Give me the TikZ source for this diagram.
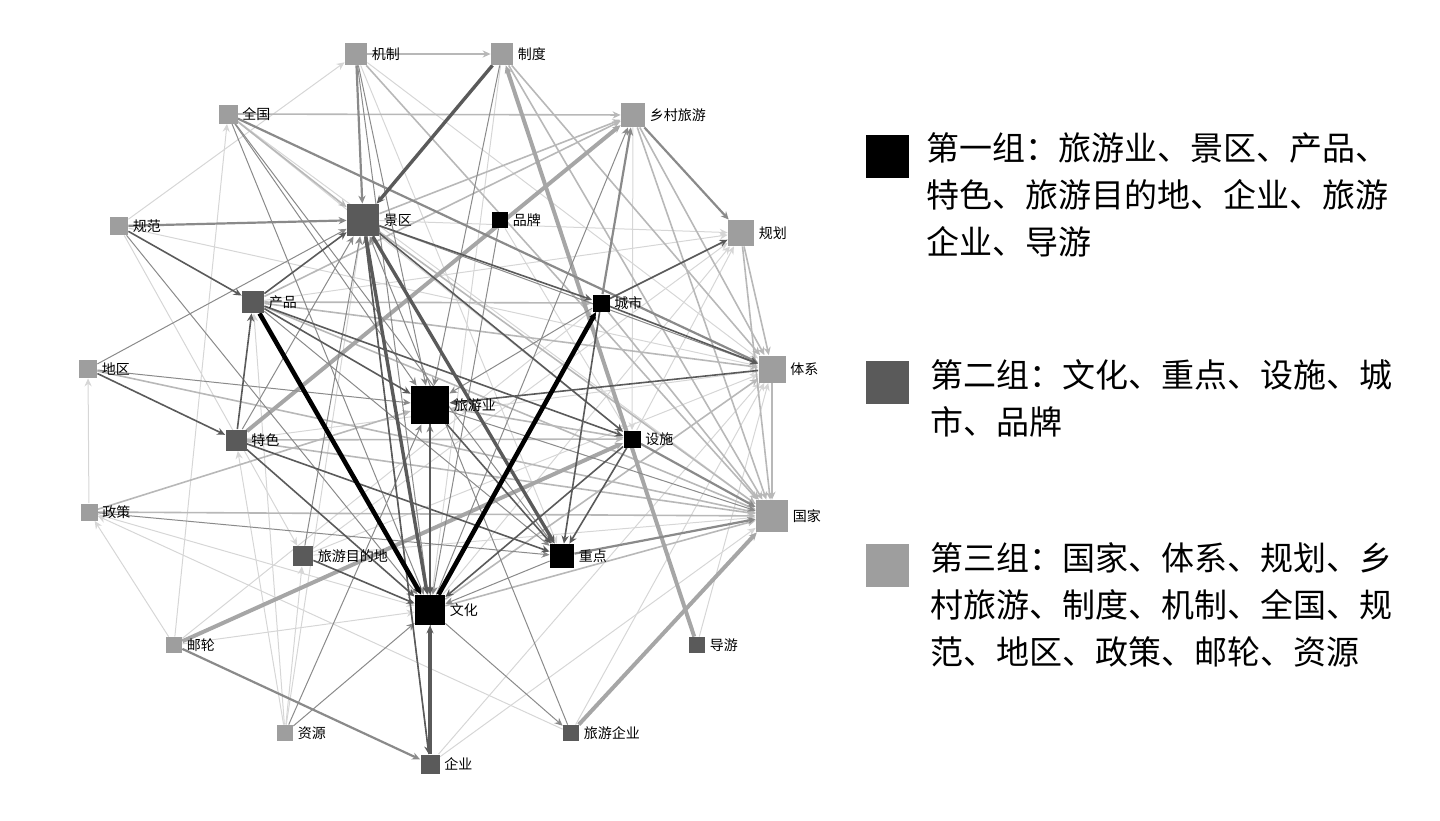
\documentclass[tikz,border=0pt]{standalone}
\usepackage{fontspec}
\setmainfont{Noto Sans CJK SC}
\usetikzlibrary{arrows.meta,backgrounds}
\definecolor{cinzaB}{HTML}{5A5A5A}
\definecolor{cinzaC}{HTML}{9E9E9E}
\definecolor{linF}{HTML}{D6D6D6}
\definecolor{linL}{HTML}{B8B8B8}
\definecolor{linLL}{HTML}{A6A6A6}
\definecolor{linM}{HTML}{8A8A8A}
\tikzset{
  >={Stealth[length=4pt,width=3.6pt]},
  sq/.style={rectangle, inner sep=0pt, minimum size=#1},
  gA/.style={sq=#1, fill=black},
  gB/.style={sq=#1, fill=cinzaB},
  gC/.style={sq=#1, fill=cinzaC},
  rot/.style={font=\fontsize{7}{8}\selectfont, inner sep=2pt},
  leg/.style={font=\fontsize{16.5}{23.5}\selectfont, align=left, inner sep=0pt},
  ef/.style={->, draw=linF, line width=0.5pt},
  el/.style={->, draw=linL, line width=0.8pt},
  eL/.style={->, draw=linLL, line width=2pt},
  em/.style={->, draw=linM, line width=0.5pt},
  eM/.style={->, draw=linM, line width=1.1pt},
  ed/.style={->, draw=cinzaB, line width=0.8pt},
  eD/.style={->, draw=cinzaB, line width=1.7pt},
  eK/.style={->, draw=black, line width=2.3pt}
}
\begin{document}
\begin{tikzpicture}[x=0.5pt,y=-0.5pt]
  \useasboundingbox (0,0) rectangle (1440,820);

  % Nós da rede.
  \node[gC=11pt, label={[rot]right:机制}] (jz) at (356,54) {};
  \node[gC=11pt, label={[rot]right:制度}] (zd) at (502,54) {};
  \node[gC=9.5pt, label={[rot]right:全国}] (qg) at (228,114) {};
  \node[gC=12pt, label={[rot]right:乡村旅游}] (xc) at (633,115) {};
  \node[gC=9pt, label={[rot]right:规范}] (gf) at (119,226) {};
  \node[gB=16pt, label={[rot]right:景区}] (jq) at (363,220) {};
  \node[gA=8pt, label={[rot]right:品牌}] (pp) at (500,220) {};
  \node[gC=13pt, label={[rot]right:规划}] (gh) at (741,233) {};
  \node[gB=11pt, label={[rot]right:产品}] (cp) at (253,302) {};
  \node[gA=8.5pt, label={[rot]right:城市}] (cs) at (601,303) {};
  \node[gC=9pt, label={[rot]right:地区}] (dq) at (88,369) {};
  \node[gC=13.5pt, label={[rot]right:体系}] (tx) at (772,369) {};
  \node[gA=19pt, label={[rot]right:旅游业}] (ly) at (430,405) {};
  \node[gA=8.5pt, label={[rot]right:设施}] (ss) at (632,439) {};
  \node[gB=10.5pt, label={[rot]right:特色}] (ts) at (236,440) {};
  \node[gC=8.5pt, label={[rot]right:政策}] (zc) at (89,512) {};
  \node[gC=16pt, label={[rot]right:国家}] (gj) at (772,516) {};
  \node[gB=10pt, label={[rot]right:旅游目的地}] (md) at (303,556) {};
  \node[gA=12pt, label={[rot]right:重点}] (zhd) at (562,556) {};
  \node[gA=15pt, label={[rot]right:文化}] (wh) at (430,610) {};
  \node[gB=8pt, label={[rot]right:导游}] (dy) at (697,645) {};
  \node[gC=8pt, label={[rot]right:邮轮}] (yl) at (174,645) {};
  \node[gC=8pt, label={[rot]right:资源}] (zy) at (285,733) {};
  \node[gB=8pt, label={[rot]right:旅游企业}] (lq) at (571,733) {};
  \node[gB=9.5pt, label={[rot]right:企业}] (qy) at (430,764) {};

  % Ligações, das mais fracas às mais fortes.
  \begin{pgfonlayer}{background}
  \foreach \a/\b in {gf/jz, yl/qg, zc/dq, yl/zc, zy/ts, zy/md, zy/cp, zy/jq,
      lq/zc, lq/tx, qy/gj, qy/tx, dy/tx, yl/wh, yl/cs, zc/wh, md/gj, md/gh,
      wh/gh, ss/gh, jq/gh, cp/gh, gf/tx, gf/md, qg/gj, qg/ss, xc/ss, jz/tx,
      jz/zhd, zd/wh, md/tx, ts/tx, pp/ss}
    \draw[ef] (\a) -- (\b);
  \foreach \a/\b in {jz/zd, zd/tx, zd/gj, qg/xc, qg/jq, jq/xc, cp/xc, xc/gj,
      gh/tx, gh/gj, cp/cs, cp/gj, cp/tx, dq/gj, ts/ss, ts/gj, zc/gj, zc/ly,
      wh/gj, cs/gj, ss/ly, jq/gj, tx/gj, jz/gj, xc/tx, wh/tx}
    \draw[el] (\a) -- (\b);
  \foreach \a/\b in {ts/xc, dy/zd, yl/ss, lq/gj}
    \draw[eL] (\a) -- (\b);
  \foreach \a/\b in {jz/ly, jz/wh, zd/ly, gf/wh, dq/ly, dq/jq, ts/jq, zc/zhd,
      md/jq, zhd/wh, wh/lq, pp/wh, zy/ly, zy/wh, lq/jq, qy/jq, qy/ly, cs/ly,
      jq/tx, qg/ly, qg/wh, qg/zhd, wh/xc, ly/gj, cp/zhd}
    \draw[em] (\a) -- (\b);
  \foreach \a/\b in {jz/jq, qg/tx, xc/gh, cs/xc, gf/jq, zhd/gj, yl/qy, ss/gj}
    \draw[eM] (\a) -- (\b);
  \foreach \a/\b in {cs/gh, gf/cp, cp/ly, cp/jq, ts/cp, cp/ss, dq/ts, ts/zhd,
      ts/wh, md/wh, cs/zhd, ss/zhd, ly/zhd, ly/wh, ss/wh, cs/tx, jq/cs,
      jq/ss, tx/ly, jq/qy}
    \draw[ed] (\a) -- (\b);
  \foreach \a/\b in {zd/jq, jq/zhd, jq/wh, qy/wh}
    \draw[eD] (\a) -- (\b);
  \foreach \a/\b in {cp/wh, wh/cs}
    \draw[eK] (\a) -- (\b);
  \end{pgfonlayer}

  % Legenda dos grupos.
  \node[gA=21.5pt] (lgA) at (887,156) {};
  \node[leg, anchor=north west] (txA) at (926,132)
    {第一组：旅游业、景区、产品、\\特色、旅游目的地、企业、旅游\\企业、导游};
  \node[gB=21.5pt] (lgB) at (887,382) {};
  \node[leg, anchor=north west] (txB) at (930,359)
    {第二组：文化、重点、设施、城\\市、品牌};
  \node[gC=21.5pt] (lgC) at (887,565) {};
  \node[leg, anchor=north west] (txC) at (930,542)
    {第三组：国家、体系、规划、乡\\村旅游、制度、机制、全国、规\\范、地区、政策、邮轮、资源};
\end{tikzpicture}
\end{document}
